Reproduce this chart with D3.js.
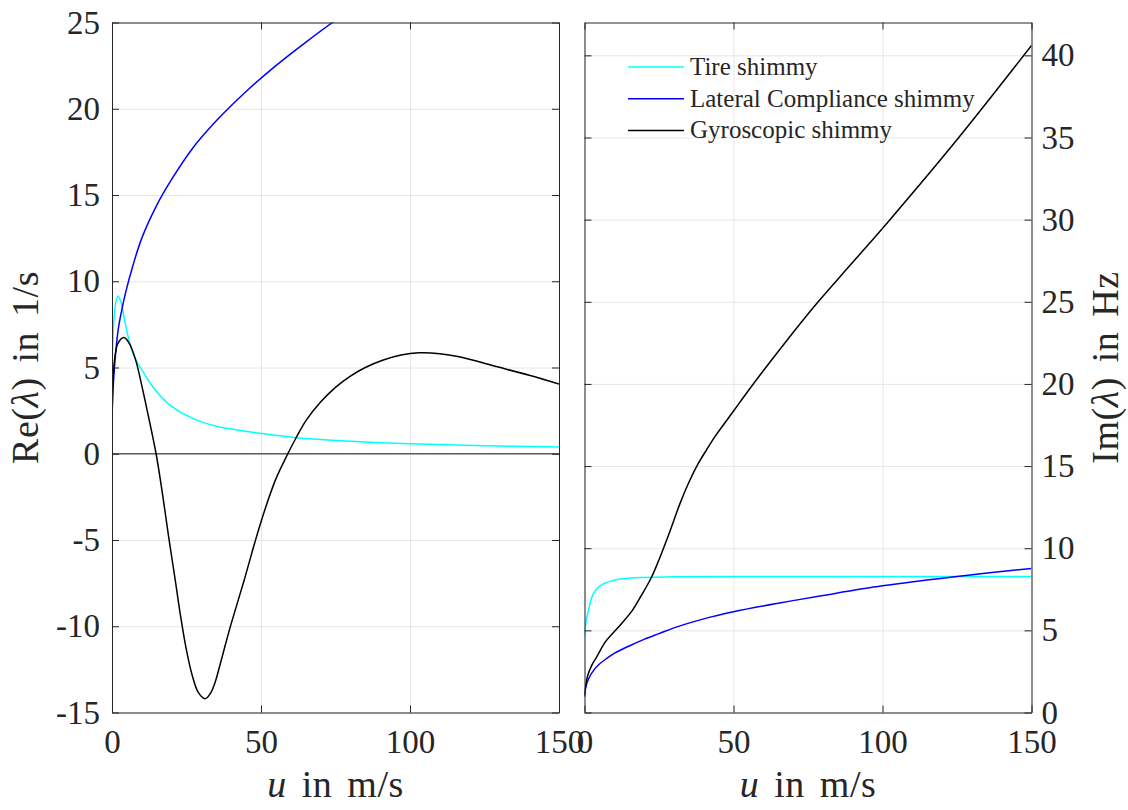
<!DOCTYPE html>
<html>
<head>
<meta charset="utf-8">
<script src="https://cdn.jsdelivr.net/npm/d3@7"></script>
<style>
  body { margin: 0; background: #fff; }
  text { font-family: "Liberation Serif", "Times New Roman", serif; fill: #262626; }
</style>
</head>
<body>
<svg id="chart" width="1128" height="810"></svg>
<script>
// values: [u in m/s, value]
const reTire = [[0,4.5],[0.5,7.4],[1.2,8.7],[2,9.15],[3,8.8],[4.5,7.5],[6,6.4],[8,5.45],[10.6,4.7],[14.5,3.7],[20,2.75],[28.5,1.95],[35,1.6],[42,1.38],[50,1.18],[62,0.93],[75,0.77],[100,0.58],[125,0.47],[150,0.39]];
const reLateral = [[0,1.85],[0.3,3.6],[1,5.4],[2,7.1],[3,8.1],[4.5,9.3],[7,10.9],[10,12.5],[15,14.4],[20,15.9],[27,17.7],[35,19.3],[45,21.0],[55,22.5],[65,23.85],[74,25.0],[85,26.3],[100,27.9]];
const reGyro = [[0,1.85],[0.3,4.0],[0.9,5.5],[2,6.4],[4,6.74],[5.8,6.4],[8,5.4],[10,3.95],[12,2.35],[14.8,0],[17,-2.4],[19,-4.8],[21.2,-7.3],[23,-9.4],[25,-11.4],[27,-12.9],[29,-13.85],[31.2,-14.2],[33,-13.9],[34.5,-13.3],[36.3,-12.2],[38,-11.1],[40,-9.85],[44.4,-7.3],[48,-5.1],[51,-3.4],[54.9,-1.5],[59,0],[62,1.0],[65.2,1.95],[70,3.0],[75,3.85],[80,4.5],[85,5.0],[90.8,5.42],[97,5.72],[103,5.85],[110,5.8],[116.5,5.62],[129.3,5.04],[140,4.55],[150,4.04]];

const imTire = [[0,4.6],[0.5,5.5],[1.34,6.23],[2.5,7.04],[4,7.5],[6,7.8],[8,7.95],[12,8.12],[19,8.22],[30,8.26],[60,8.28],[100,8.28],[150,8.28]];
const imLateral = [[0,0.95],[0.5,1.6],[1.5,2.1],[3,2.55],[5,2.95],[7.5,3.3],[10,3.6],[15,4.05],[20,4.45],[25,4.8],[30,5.15],[40,5.7],[50,6.13],[65,6.65],[80,7.12],[100,7.71],[125,8.28],[150,8.77]];
const imGyro = [[0,1.05],[1,2.2],[2.5,2.9],[4.15,3.4],[7,4.3],[11.4,5.2],[16,6.2],[19,7.1],[22.4,8.2],[25,9.3],[28.3,10.85],[32,12.7],[35,14.0],[38,15.1],[41,16.0],[44,16.85],[48,17.85],[52,18.85],[60,20.8],[77,24.7],[90,27.4],[102.5,30],[125.6,35],[150,40.6]];

const seriesNames = ["Tire shimmy", "Lateral Compliance shimmy", "Gyroscopic shimmy"];
const seriesColors = ["#00ffff", "#0000ff", "#000000"];

const uTicks = [0, 50, 100, 150];
const reTicks = [-15, -10, -5, 0, 5, 10, 15, 20, 25];
const imTicks = [0, 5, 10, 15, 20, 25, 30, 35, 40];

const TICK_LEN = 7;
const GRID_COLOR = "#e6e6e6";
const AXIS_COLOR = "#262626";
const FONT = '"Liberation Serif", "Times New Roman", serif';

const svg = d3.select("#chart");

function drawPanel(id, box, yDomain, yTicks, series, labelSide, yLabel) {
    const x = d3.scaleLinear().domain([0, 150]).range([box.x0, box.x1]);
    const y = d3.scaleLinear().domain(yDomain).range([box.y1, box.y0]);
    const w = box.x1 - box.x0, h = box.y1 - box.y0;
    const g = svg.append("g");

    g.append("clipPath").attr("id", id)
        .append("rect").attr("x", box.x0).attr("y", box.y0).attr("width", w).attr("height", h);

    // grid
    g.append("g").attr("transform", `translate(0,${box.y1})`)
        .call(d3.axisBottom(x).tickValues(uTicks).tickSize(-h).tickFormat(""))
        .call(a => a.select(".domain").remove())
        .call(a => a.selectAll("line").attr("stroke", GRID_COLOR));
    g.append("g").attr("transform", `translate(${box.x0},0)`)
        .call(d3.axisLeft(y).tickValues(yTicks).tickSize(-w).tickFormat(""))
        .call(a => a.select(".domain").remove())
        .call(a => a.selectAll("line").attr("stroke", GRID_COLOR));

    // curves
    const line = d3.line().x(d => x(d[0])).y(d => y(d[1])).curve(d3.curveCatmullRom.alpha(0.5));
    const lines = g.append("g").attr("clip-path", `url(#${id})`);
    if (yDomain[0] < 0) {
        lines.append("line")
            .attr("x1", box.x0).attr("x2", box.x1)
            .attr("y1", y(0)).attr("y2", y(0))
            .attr("stroke", "#5f5f5f").attr("stroke-width", 1.6);
    }
    series.forEach((s, i) => {
        lines.append("path").datum(s)
            .attr("fill", "none")
            .attr("stroke", seriesColors[i])
            .attr("stroke-width", 1.5)
            .attr("d", line);
    });

    // axes (ticks pointing inward, full box)
    const styleAxis = a => {
        a.attr("font-family", FONT);
        a.select(".domain").attr("stroke", AXIS_COLOR);
        a.selectAll(".tick line").attr("stroke", AXIS_COLOR);
        a.selectAll(".tick text").attr("fill", AXIS_COLOR)
            .attr("font-family", FONT)
            .style("font-family", FONT).style("font-size", "33px");
    };
    const fmt = d => String(d);

    g.append("g").attr("transform", `translate(0,${box.y1})`)
        .call(d3.axisBottom(x).tickValues(uTicks).tickSizeInner(-TICK_LEN).tickSizeOuter(0).tickPadding(17).tickFormat(fmt))
        .call(styleAxis);
    g.append("g").attr("transform", `translate(0,${box.y0})`)
        .call(d3.axisTop(x).tickValues(uTicks).tickSizeInner(-TICK_LEN).tickSizeOuter(0).tickFormat(""))
        .call(styleAxis);
    g.append("g").attr("transform", `translate(${box.x0},0)`)
        .call(d3.axisLeft(y).tickValues(yTicks).tickSizeInner(-TICK_LEN).tickSizeOuter(0).tickPadding(12)
            .tickFormat(labelSide === "left" ? fmt : ""))
        .call(styleAxis);
    g.append("g").attr("transform", `translate(${box.x1},0)`)
        .call(d3.axisRight(y).tickValues(yTicks).tickSizeInner(-TICK_LEN).tickSizeOuter(0).tickPadding(10)
            .tickFormat(labelSide === "right" ? fmt : ""))
        .call(styleAxis);

    // x label
    const xl = g.append("text")
        .attr("x", (box.x0 + box.x1) / 2).attr("y", 797)
        .attr("text-anchor", "middle")
        .attr("font-family", FONT)
        .style("font-size", "38px").style("word-spacing", "5px").style("letter-spacing", "0.5px");
    xl.append("tspan").attr("font-style", "italic").text("u");
    xl.append("tspan").text(" in m/s");

    // y label
    const lx = labelSide === "left" ? 38 : 1118;
    const yl = g.append("text")
        .attr("transform", `translate(${lx},${(box.y0 + box.y1) / 2}) rotate(-90)`)
        .attr("text-anchor", "middle")
        .attr("font-family", FONT)
        .style("font-size", "38px").style("word-spacing", "5px").style("letter-spacing", "0.5px");
    yl.append("tspan").text(yLabel + "(");
    yl.append("tspan").attr("font-style", "italic").text("λ");
    yl.append("tspan").text(labelSide === "left" ? ") in 1/s" : ") in Hz");

    return { x, y };
}

drawPanel("clipL", { x0: 112, x1: 559, y0: 22.5, y1: 712.5 }, [-15, 25], reTicks,
    [reTire, reLateral, reGyro], "left", "Re");
drawPanel("clipR", { x0: 584.5, x1: 1031.5, y0: 22.5, y1: 712.5 }, [0, 42], imTicks,
    [imTire, imLateral, imGyro], "right", "Im");

// legend (no box)
const legend = svg.append("g");
seriesNames.forEach((name, i) => {
    const ly = 67 + i * 31.7;
    legend.append("line")
        .attr("x1", 628).attr("x2", 684).attr("y1", ly).attr("y2", ly)
        .attr("stroke", seriesColors[i]).attr("stroke-width", 1.5);
    legend.append("text")
        .attr("x", 690).attr("y", ly + 8)
        .attr("font-family", FONT)
        .style("font-size", "25px")
        .text(name);
});
</script>
</body>
</html>
